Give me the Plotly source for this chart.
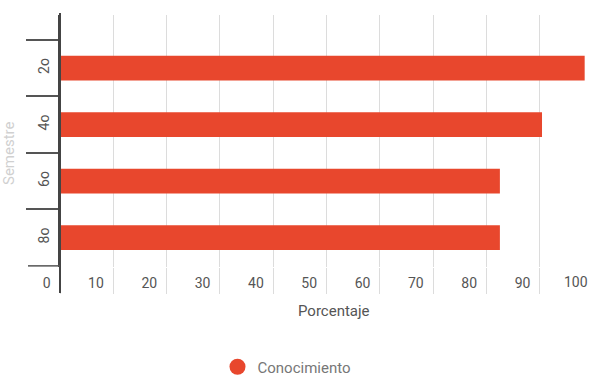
import plotly.graph_objects as go

semestres = ["2o", "4o", "6o", "8o"]
porcentaje = [98.4, 90.4, 82.5, 82.5]
x_ticks = [0, 10, 20, 30, 40, 50, 60, 70, 80, 90]
x_ticktext = ["0", "10", "20", "30", "40", "50", "60", "70", "80", "90"]
serie = "Conocimiento"

BAR = "#E8472D"
W, H = 590, 376
L, R, T, B = 60, 0, 15, 109
XMAX = 99.4

fig = go.Figure()
fig.add_trace(go.Bar(
    y=semestres, x=porcentaje, orientation="h",
    marker=dict(color=BAR, line=dict(width=0)),
    name=serie, showlegend=False,
))
fig.add_trace(go.Scatter(
    x=[None], y=[None], mode="markers", name=serie,
    marker=dict(symbol="circle", size=18, color=BAR),
))

ph = H - T - B
pw = W - L - R
fig.update_layout(
    width=W, height=H,
    margin=dict(l=L, r=R, t=T, b=B, autoexpand=False),
    paper_bgcolor="white", plot_bgcolor="white",
    font=dict(family="Roboto", color="#555", size=14),
    bargap=0.56,
    showlegend=True,
    legend=dict(orientation="h", x=(287 - L) / pw, xanchor="center",
                y=(T + ph - 367) / ph, yanchor="middle",
                font=dict(size=15, color="#777"), itemwidth=30),
)
fig.update_xaxes(
    range=[0, XMAX], showgrid=True, gridcolor="#dcdcdc", gridwidth=1,
    tickvals=x_ticks, ticktext=x_ticktext,
    ticks="outside", ticklen=26, tickcolor="#dcdcdc", tickwidth=1,
    ticklabelposition="outside left", ticklabelstandoff=3, ticklabelshift=-9,
    tickfont=dict(size=14, color="#555"),
    zeroline=False, showline=False, fixedrange=True,
)
fig.update_yaxes(
    categoryorder="array", categoryarray=semestres,
    range=[3.52, -0.94],
    ticks="outside", tickson="boundaries", ticklen=32, tickcolor="#555", tickwidth=1.5,
    tickangle=-90, ticklabelstandoff=3,
    tickfont=dict(size=14, color="#555"),
    showline=True, linecolor="#444", linewidth=2,
    showgrid=False, zeroline=False,
)
# axis line extension
fig.add_shape(type="line", xref="paper", yref="paper",
              x0=0, x1=0, y0=1.008, y1=-(293 - T - ph) / ph,
              line=dict(color="#444", width=2))
# last boundary tick on the category axis
fig.add_shape(type="line", xref="paper", yref="y",
              x0=-32 / pw, x1=0, y0=len(semestres) - 0.5, y1=len(semestres) - 0.5,
              line=dict(color="#555", width=1.5))
# "100" tick label beyond the visible range
fig.add_annotation(text="100", xref="paper", yref="paper", x=1, xanchor="right",
                   y=(T + ph - 282) / ph, yanchor="middle", showarrow=False,
                   xshift=0, font=dict(size=14, color="#555"))
# x-axis title
fig.add_annotation(text="Porcentaje", xref="paper", yref="paper",
                   x=(334 - L) / pw, xanchor="center",
                   y=(T + ph - 311) / ph, yanchor="middle", showarrow=False,
                   font=dict(size=15, color="#555"))
# y-axis title
fig.add_annotation(text="Semestre", xref="paper", yref="paper",
                   x=-(L - 9) / pw, xanchor="center", y=(T + ph - 153) / ph, yanchor="middle",
                   textangle=-90, showarrow=False,
                   font=dict(size=15, color="#d0d0d0"))

fig.write_html("out.html")
